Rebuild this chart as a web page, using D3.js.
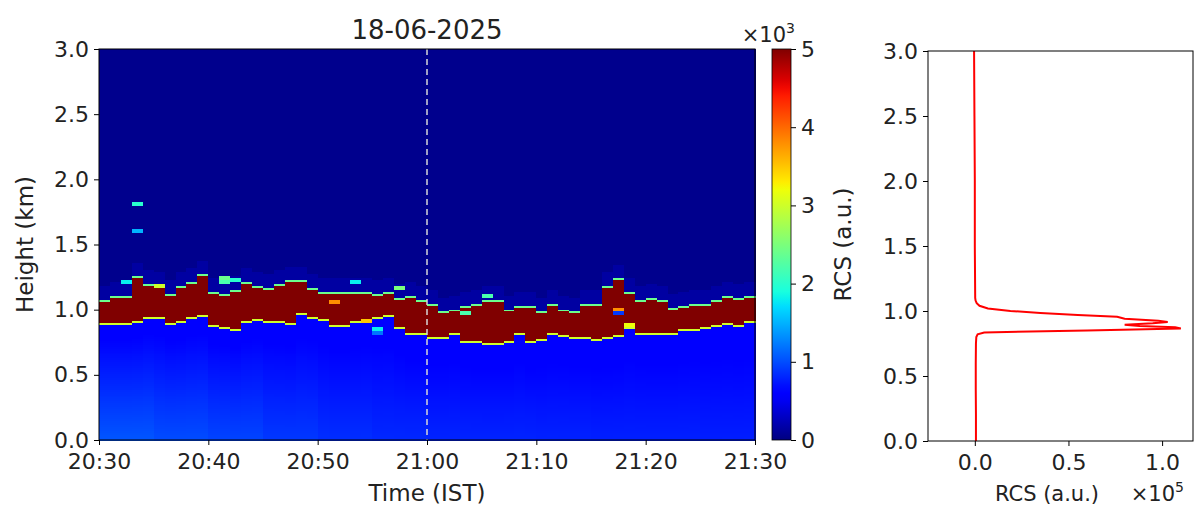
<!DOCTYPE html>
<html>
<head>
<meta charset="utf-8">
<script src="https://cdn.jsdelivr.net/npm/d3@7"></script>
<style>
body { margin: 0; background: #fff; }
text { font-family: "DejaVu Sans", sans-serif; fill: #222; }
</style>
</head>
<body>
<div id="chart"></div>
<script>
// lidar cloud band, one value per minute from 20:30 IST (km)
var cloudTop = [1.06, 1.10, 1.10, 1.25, 1.18, 1.17, 1.11, 1.17, 1.20, 1.26, 1.13, 1.11, 1.14, 1.20, 1.17,
    1.16, 1.19, 1.21, 1.21, 1.16, 1.12, 1.12, 1.13, 1.13, 1.12, 1.11, 1.12, 1.08, 1.10, 1.06,
    1.035, 0.97, 0.99, 1.02, 1.035, 1.07, 1.06, 0.99, 1.02, 1.02, 0.97, 1.035, 0.99, 0.97, 1.04,
    1.035, 1.17, 1.23, 1.12, 1.07, 1.08, 1.06, 1.00, 1.02, 1.035, 1.04, 1.07, 1.10, 1.08, 1.10];

var cloudBase = [0.895, 0.895, 0.895, 0.91, 0.945, 0.945, 0.895, 0.91, 0.945, 0.96, 0.88, 0.87, 0.85, 0.91, 0.93,
    0.92, 0.91, 0.895, 0.97, 0.945, 0.93, 0.88, 0.88, 0.91, 0.93, 0.945, 0.96, 0.87, 0.82, 0.82,
    0.79, 0.79, 0.82, 0.77, 0.76, 0.75, 0.75, 0.76, 0.82, 0.76, 0.78, 0.82, 0.81, 0.79, 0.79,
    0.78, 0.79, 0.81, 0.87, 0.83, 0.82, 0.82, 0.82, 0.85, 0.86, 0.87, 0.88, 0.895, 0.88, 0.91];

// near-surface RCS, one value per 5 minutes
var surfaceRCS = [1050, 1000, 960, 900, 850, 820, 800, 800, 790, 780, 780, 770];

// isolated bright bins: minute index, height (km), RCS
var spots = [
    {m: 3, h: 1.81, v: 2000}, {m: 3, h: 1.59, v: 1500},
    {m: 2, h: 1.20, v: 1800}, {m: 5, h: 1.17, v: 3000},
    {m: 11, h: 1.20, v: 2200}, {m: 11, h: 1.24, v: 2400}, {m: 12, h: 1.22, v: 2000},
    {m: 21, h: 1.06, v: 3800}, {m: 23, h: 1.20, v: 1800}, {m: 24, h: 0.91, v: 3500},
    {m: 25, h: 0.85, v: 1800}, {m: 25, h: 0.82, v: 1200}, {m: 27, h: 1.16, v: 2500},
    {m: 33, h: 0.97, v: 2200}, {m: 35, h: 1.10, v: 2200},
    {m: 47, h: 0.96, v: 900}, {m: 47, h: 1.00, v: 3800}, {m: 48, h: 0.87, v: 3200}
];

// profile at 21:00
var profileHeight = [0.0, 0.2, 0.4, 0.6, 0.75, 0.80, 0.82, 0.835, 0.85, 0.865, 0.875, 0.885, 0.895, 0.905,
    0.915, 0.925, 0.94, 0.955, 0.97, 0.985, 1.0, 1.02, 1.04, 1.06, 1.08, 1.1, 1.5, 2.0, 2.5, 3.0];
var profileRCS = [600, 600, 500, 500, 600, 800, 1500, 5000, 60000, 110000, 107000, 88000, 80000, 95000,
    103000, 98000, 80000, 76000, 55000, 35000, 19000, 7000, 2500, 1000, 400, 200, 0, 0, -200, -400];

var heightTicks = [0, 0.5, 1.0, 1.5, 2.0, 2.5, 3.0];
var colourTicks = [0, 1000, 2000, 3000, 4000, 5000];
var profileTicks = [0, 50000, 100000];

var binSize = 0.015;
var timeStart = new Date(2025, 5, 18, 20, 30);
var timeEnd = new Date(2025, 5, 18, 21, 30);
var profileTime = new Date(2025, 5, 18, 21, 0);

// matplotlib jet
var jetR = d3.scaleLinear().domain([0, 0.35, 0.66, 0.89, 1]).range([0, 0, 1, 1, 0.5]).clamp(true);
var jetG = d3.scaleLinear().domain([0, 0.125, 0.375, 0.64, 0.91, 1]).range([0, 0, 1, 1, 0, 0]).clamp(true);
var jetB = d3.scaleLinear().domain([0, 0.11, 0.34, 0.65, 1]).range([0.5, 1, 1, 0, 0]).clamp(true);

function jet(t) {
    t = Math.max(0, Math.min(1, t));
    return d3.rgb(jetR(t) * 255, jetG(t) * 255, jetB(t) * 255).toString();
}

var norm = d3.scaleLinear().domain([0, 5000]).clamp(true);

function cellValue(i, h) {
    var top = cloudTop[i];
    var base = cloudBase[i];
    if (h >= base && h <= top) return 6000;
    if (h > top && h <= top + binSize) return 2400;
    if (h < base && h >= base - binSize) return 3000;
    if (h > top) {
        return h <= top + 0.12 ? 150 : 60;
    }
    var s = surfaceRCS[Math.floor(i / 5)];
    return 560 + (s - 560) * (1 - h / base);
}

var cells = [];
cloudTop.forEach(function(top, i) {
    for (var j = 0; j < Math.round(3 / binSize); j++) {
        var h = (j + 0.5) * binSize;
        cells.push({ i: i, j: j, v: cellValue(i, h) });
    }
});
// bright bins cover two height bins each
spots.forEach(function(s) {
    var j = Math.floor(s.h / binSize);
    cells.forEach(function(c) {
        if (c.i === s.m && (c.j === j || c.j === j + 1)) c.v = s.v;
    });
});

var svg = d3.select('#chart')
    .append('svg')
    .attr('width', 1195)
    .attr('height', 509);

// ---- heatmap panel
var main = { left: 99, right: 755, top: 49, bottom: 440 };

var x = d3.scaleTime()
    .domain([timeStart, timeEnd])
    .range([main.left, main.right]);

var y = d3.scaleLinear()
    .domain([0, 3])
    .range([main.bottom, main.top]);

svg.append('g')
    .attr('class', 'cells')
    .selectAll('rect')
    .data(cells)
    .enter()
    .append('rect')
    .attr('x', function(d) { return x(d3.timeMinute.offset(timeStart, d.i)); })
    .attr('width', function(d) {
        return x(d3.timeMinute.offset(timeStart, d.i + 1)) - x(d3.timeMinute.offset(timeStart, d.i)) + 0.5;
    })
    .attr('y', function(d) { return y((d.j + 1) * binSize); })
    .attr('height', function(d) { return y(d.j * binSize) - y((d.j + 1) * binSize) + 0.5; })
    .attr('fill', function(d) { return jet(norm(d.v)); })
    .attr('shape-rendering', 'crispEdges');

svg.append('line')
    .attr('x1', x(profileTime))
    .attr('x2', x(profileTime))
    .attr('y1', main.top)
    .attr('y2', main.bottom)
    .attr('stroke', '#d8d8d8')
    .attr('stroke-width', 1.5)
    .attr('stroke-dasharray', '6,4');

svg.append('rect')
    .attr('x', main.left)
    .attr('y', main.top)
    .attr('width', main.right - main.left)
    .attr('height', main.bottom - main.top)
    .attr('fill', 'none')
    .attr('stroke', '#000')
    .attr('stroke-width', 1);

var xAxis = d3.axisBottom(x)
    .ticks(d3.timeMinute.every(10))
    .tickFormat(d3.timeFormat('%H:%M'))
    .tickSize(5)
    .tickSizeOuter(0)
    .tickPadding(8);

var yAxis = d3.axisLeft(y)
    .tickValues(heightTicks)
    .tickFormat(d3.format('.1f'))
    .tickSize(5)
    .tickSizeOuter(0)
    .tickPadding(5);

function styleAxis(g) {
    g.select('.domain').remove();
    g.selectAll('text')
        .attr('font-size', '22px')
        .attr('font-family', '"DejaVu Sans", sans-serif')
        .attr('fill', '#222');
}

svg.append('g')
    .attr('transform', 'translate(0,' + main.bottom + ')')
    .call(xAxis)
    .call(styleAxis);

svg.append('g')
    .attr('transform', 'translate(' + main.left + ',0)')
    .call(yAxis)
    .call(styleAxis);

svg.append('text')
    .attr('x', (main.left + main.right) / 2)
    .attr('y', 39)
    .attr('text-anchor', 'middle')
    .attr('font-size', '26px')
    .text('18-06-2025');

svg.append('text')
    .attr('x', (main.left + main.right) / 2)
    .attr('y', 501)
    .attr('text-anchor', 'middle')
    .attr('font-size', '23px')
    .text('Time (IST)');

svg.append('text')
    .attr('transform', 'translate(33,' + (main.top + main.bottom) / 2 + ') rotate(-90)')
    .attr('text-anchor', 'middle')
    .attr('font-size', '23px')
    .text('Height (km)');

// ---- colour bar
var cbar = { left: 772, right: 791, top: 49, bottom: 440 };

var cScale = d3.scaleLinear()
    .domain([0, 5000])
    .range([cbar.bottom, cbar.top]);

var grad = svg.append('defs')
    .append('linearGradient')
    .attr('id', 'jetgrad')
    .attr('x1', 0).attr('y1', 1)
    .attr('x2', 0).attr('y2', 0);

grad.selectAll('stop')
    .data(d3.range(0, 1.0001, 0.02))
    .enter()
    .append('stop')
    .attr('offset', function(d) { return d; })
    .attr('stop-color', function(d) { return jet(d); });

svg.append('rect')
    .attr('x', cbar.left)
    .attr('y', cbar.top)
    .attr('width', cbar.right - cbar.left)
    .attr('height', cbar.bottom - cbar.top)
    .attr('fill', 'url(#jetgrad)')
    .attr('stroke', '#000')
    .attr('stroke-width', 0.8);

svg.append('g')
    .attr('transform', 'translate(' + cbar.right + ',0)')
    .call(d3.axisRight(cScale)
        .tickValues(colourTicks)
        .tickFormat(function(d) { return d / 1000; })
        .tickSize(5)
        .tickSizeOuter(0)
        .tickPadding(5))
    .call(styleAxis);

svg.append('text')
    .attr('x', 795)
    .attr('y', 42)
    .attr('text-anchor', 'end')
    .attr('font-size', '21px')
    .html('×10<tspan dy="-9" font-size="14px">3</tspan>');

svg.append('text')
    .attr('transform', 'translate(851,' + (cbar.top + cbar.bottom) / 2 + ') rotate(-90)')
    .attr('text-anchor', 'middle')
    .attr('font-size', '23px')
    .text('RCS (a.u.)');

// ---- profile panel
var prof = { left: 928, right: 1193, top: 51, bottom: 441 };

var px = d3.scaleLinear()
    .domain([-25000, 116500])
    .range([prof.left, prof.right]);

var py = d3.scaleLinear()
    .domain([0, 3])
    .range([prof.bottom, prof.top]);

var profile = profileHeight.map(function(h, i) {
    return { h: h, v: profileRCS[i] };
});

svg.append('path')
    .datum(profile)
    .attr('d', d3.line()
        .x(function(d) { return px(d.v); })
        .y(function(d) { return py(d.h); }))
    .attr('fill', 'none')
    .attr('stroke', '#ff0000')
    .attr('stroke-width', 2);

svg.append('rect')
    .attr('x', prof.left)
    .attr('y', prof.top)
    .attr('width', prof.right - prof.left)
    .attr('height', prof.bottom - prof.top)
    .attr('fill', 'none')
    .attr('stroke', '#000')
    .attr('stroke-width', 1);

svg.append('g')
    .attr('transform', 'translate(0,' + prof.bottom + ')')
    .call(d3.axisBottom(px)
        .tickValues(profileTicks)
        .tickFormat(function(d) { return (d / 100000).toFixed(1); })
        .tickSize(5)
        .tickSizeOuter(0)
        .tickPadding(8))
    .call(styleAxis);

svg.append('g')
    .attr('transform', 'translate(' + prof.left + ',0)')
    .call(d3.axisLeft(py)
        .tickValues(heightTicks)
        .tickFormat(d3.format('.1f'))
        .tickSize(5)
        .tickSizeOuter(0)
        .tickPadding(5))
    .call(styleAxis);

svg.append('text')
    .attr('x', 1047)
    .attr('y', 501)
    .attr('text-anchor', 'middle')
    .attr('font-size', '21px')
    .text('RCS (a.u.)');

svg.append('text')
    .attr('x', 1184)
    .attr('y', 501)
    .attr('text-anchor', 'end')
    .attr('font-size', '21px')
    .html('×10<tspan dy="-9" font-size="14px">5</tspan>');
</script>
</body>
</html>
